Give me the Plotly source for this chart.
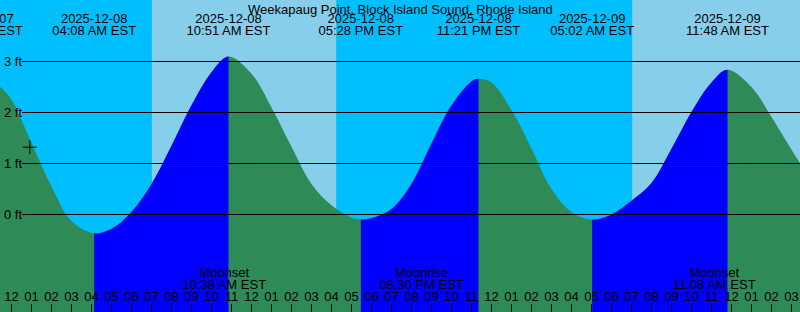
import plotly.graph_objects as go
from datetime import datetime

STATION = "Weekapaug Point, Block Island Sound, Rhode Island"
T0 = datetime(2025, 12, 8, 0, 0)          # hours are counted from this instant (EST)

# tide height (ft) at hours after 2025-12-08 00:00 EST
sample_hours = [-0.5, 0, 1, 2, 3, 5, 6, 7, 8, 9, 10, 12, 13, 14, 15, 16, 17, 18,
                19, 20, 21, 22, 23, 24, 25, 26, 27, 28, 30, 31, 32, 33, 34, 35,
                37, 38, 39, 39.5]
sample_heights = [2.48, 2.25, 1.40, 0.55, -0.13, -0.28, 0.05, 0.60, 1.35, 2.14,
                  2.79, 2.76, 2.10, 1.33, 0.60, 0.18, -0.06, -0.07, 0.11, 0.60,
                  1.39, 2.14, 2.61, 2.59, 2.05, 1.29, 0.50, 0.05, 0.00, 0.27,
                  0.62, 1.29, 2.01, 2.59, 2.50, 1.91, 1.27, 0.96]

# high / low tides
tide_times = ["2025-12-07 22:27", "2025-12-08 04:08", "2025-12-08 10:51", "2025-12-08 17:28",
              "2025-12-08 23:21", "2025-12-09 05:02", "2025-12-09 11:48"]
tide_heights = [2.75, -0.37, 3.10, -0.10, 2.66, -0.10, 2.84]

# daylight
sunrise_times = ["2025-12-08 07:01", "2025-12-09 07:02"]
sunset_times = ["2025-12-08 16:14", "2025-12-09 16:15"]

# moon events
moon_times = ["2025-12-08 10:38", "2025-12-08 20:30", "2025-12-09 11:08"]
moon_events = ["Moonset", "Moonrise", "Moonset"]

# current-time mark
now_time = "2025-12-08 00:55"
now_height = 1.32

height_ticks = [0, 1, 2, 3]

X_RANGE = [-0.575, 39.425]
Y_RANGE = [-1.912, 4.206]

FONT = "Liberation Sans, Arial, sans-serif"
NIGHT = "#00BFFF"
DAY = "#87CEEB"
EBB = "#2E8B57"
FLOOD = "#0000FF"


def hrs(s):
    return (datetime.strptime(s, "%Y-%m-%d %H:%M") - T0).total_seconds() / 3600.0


def frac(v):
    return (v - X_RANGE[0]) / (X_RANGE[1] - X_RANGE[0])


tide_h = [hrs(t) for t in tide_times]
pts = sorted(zip(sample_hours + tide_h, sample_heights + tide_heights))
curve_x = [p[0] for p in pts]
curve_y = [p[1] for p in pts]

rising = [(tide_h[i], tide_h[i + 1]) for i in range(len(tide_h) - 1)
          if tide_heights[i + 1] > tide_heights[i]]

fig = go.Figure()
BOT = Y_RANGE[0] - 1


def add_fill(xname, color):
    fig.add_trace(go.Scatter(x=[curve_x[0], curve_x[-1]], y=[BOT, BOT], mode="lines",
                             line=dict(width=0), xaxis=xname, yaxis="y",
                             hoverinfo="skip", showlegend=False))
    fig.add_trace(go.Scatter(x=curve_x, y=curve_y, mode="lines",
                             line=dict(width=0, shape="spline", color=color),
                             fill="tonexty", fillcolor=color, xaxis=xname, yaxis="y",
                             hoverinfo="skip", showlegend=False))


# ebb (whole curve) then flood pieces on clipped sub-axes
add_fill("x", EBB)
axes_layout = {}
for i, (a, b) in enumerate(rising):
    n = i + 2
    add_fill(f"x{n}", FLOOD)
    axes_layout[f"xaxis{n}"] = dict(domain=[frac(a), frac(b)], range=[a, b], anchor="y",
                                    visible=False)

tick_ax = len(rising) + 2
thick_ax = tick_ax + 1
red_ax = tick_ax + 2
tx = f"x{tick_ax}"

# tide labels at the top
fig.add_trace(go.Scatter(
    x=tide_h, y=[3.824] * len(tide_h), mode="text",
    text=[datetime.strptime(t, "%Y-%m-%d %H:%M").strftime("%Y-%m-%d") for t in tide_times],
    textfont=dict(family=FONT, size=13, color="black"), textposition="middle center",
    xaxis=tx, yaxis="y", hoverinfo="skip", showlegend=False))
fig.add_trace(go.Scatter(
    x=tide_h, y=[3.588] * len(tide_h), mode="text",
    text=[datetime.strptime(t, "%Y-%m-%d %H:%M").strftime("%I:%M %p EST") for t in tide_times],
    textfont=dict(family=FONT, size=13, color="black"), textposition="middle center",
    xaxis=tx, yaxis="y", hoverinfo="skip", showlegend=False))

# moon labels at the bottom
moon_h = [hrs(t) for t in moon_times]
fig.add_trace(go.Scatter(
    x=moon_h, y=[-1.167] * len(moon_h), mode="text", text=moon_events,
    textfont=dict(family=FONT, size=13, color="black"), textposition="middle center",
    xaxis=tx, yaxis="y", hoverinfo="skip", showlegend=False))
fig.add_trace(go.Scatter(
    x=moon_h, y=[-1.392] * len(moon_h), mode="text",
    text=[datetime.strptime(t, "%Y-%m-%d %H:%M").strftime("%I:%M %p EST") for t in moon_times],
    textfont=dict(family=FONT, size=13, color="black"), textposition="middle center",
    xaxis=tx, yaxis="y", hoverinfo="skip", showlegend=False))

# current time mark
fig.add_trace(go.Scatter(
    x=[hrs(now_time)], y=[now_height], mode="markers",
    marker=dict(symbol="cross-thin", size=10, line=dict(width=1, color="black")),
    xaxis=tx, yaxis="y", hoverinfo="skip", showlegend=False))

hour_vals = [v for v in range(0, 40)]
hour_text = [f"{(v % 12) or 12:02d}" for v in hour_vals]
midnights = [v for v in hour_vals if v % 24 == 0]

axes_layout[f"xaxis{tick_ax}"] = dict(
    domain=[0, 1], range=X_RANGE, anchor="y", showgrid=False, zeroline=False,
    showline=False, tickmode="array", tickvals=hour_vals, ticktext=hour_text,
    ticks="inside", ticklen=8, tickwidth=1, tickcolor="black",
    ticklabelposition="inside", ticklabeloverflow="allow",
    tickfont=dict(family=FONT, size=13, color="black"))
axes_layout[f"xaxis{thick_ax}"] = dict(
    overlaying=tx, range=X_RANGE, anchor="y", showgrid=False, zeroline=False,
    showline=False, tickmode="array", tickvals=midnights, showticklabels=False,
    ticks="inside", ticklen=8, tickwidth=3, tickcolor="black")
axes_layout[f"xaxis{red_ax}"] = dict(
    overlaying=tx, range=X_RANGE, anchor="y", showgrid=False, zeroline=False,
    showline=False, tickmode="array", tickvals=moon_h, showticklabels=False,
    ticks="inside", ticklen=8, tickwidth=1, tickcolor="#FF0000")

shapes = []
for a, b in zip(sunrise_times, sunset_times):
    shapes.append(dict(type="rect", xref="x", yref="paper", x0=hrs(a), x1=hrs(b), y0=0, y1=1,
                       fillcolor=DAY, line=dict(width=0), layer="below"))
for v in height_ticks:
    shapes.append(dict(type="line", xref="paper", yref="y", x0=22 / 800, x1=1, y0=v, y1=v,
                       line=dict(color="black", width=1), layer="above"))

annotations = [dict(text=STATION, xref="paper", yref="paper", x=0.5, y=1, xanchor="center",
                    yanchor="top", showarrow=False,
                    font=dict(family=FONT, size=13, color="black"))]
for v in height_ticks:
    annotations.append(dict(text=f"{v} ft", xref="paper", yref="y", x=2 / 800, y=v,
                            xanchor="left", yanchor="middle", showarrow=False,
                            font=dict(family=FONT, size=13, color="black")))

fig.update_layout(
    width=800, height=312, margin=dict(l=0, r=0, t=0, b=0),
    paper_bgcolor=NIGHT, plot_bgcolor="rgba(0,0,0,0)", showlegend=False,
    xaxis=dict(domain=[0, 1], range=X_RANGE, visible=False),
    yaxis=dict(domain=[0, 1], range=Y_RANGE, visible=False),
    shapes=shapes, annotations=annotations,
    font=dict(family=FONT, size=13, color="black"),
    **axes_layout)

fig.write_html("out.html")
